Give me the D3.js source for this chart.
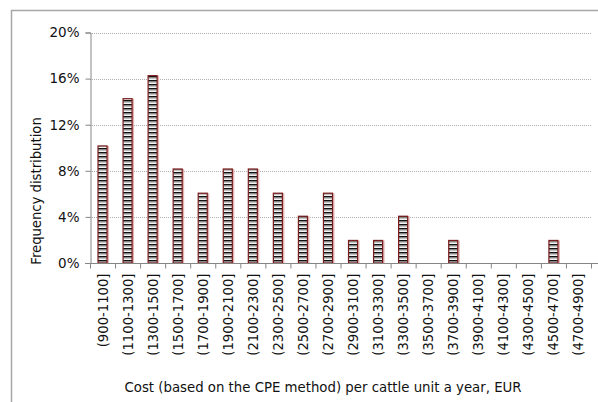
<!DOCTYPE html>
<html><head><meta charset="utf-8">
<script src="https://cdn.jsdelivr.net/npm/d3@7"></script>
<style>body{margin:0;background:#fff;}svg{display:block;font-family:"DejaVu Sans",Verdana,sans-serif;}</style>
</head><body>
<svg id="c" width="598" height="402"></svg>
<script>
const categories = ["(900-1100]","(1100-1300]","(1300-1500]","(1500-1700]","(1700-1900]","(1900-2100]","(2100-2300]","(2300-2500]","(2500-2700]","(2700-2900]","(2900-3100]","(3100-3300]","(3300-3500]","(3500-3700]","(3700-3900]","(3900-4100]","(4100-4300]","(4300-4500]","(4500-4700]","(4700-4900]"];
const values = [10.2,14.3,16.3,8.2,6.1,8.2,8.2,6.1,4.1,6.1,2.0,2.0,4.1,0,2.0,0,0,0,2.0,0];
const yTicks = [0,4,8,12,16,20];
const yTitle = "Frequency distribution";
const xTitle = "Cost (based on the CPE method) per cattle unit a year, EUR";

const svg = d3.select("#c");
const m = {left:90, right:591, top:32.5, bottom:263};

// outer border
svg.append("rect").attr("x",11.5).attr("y",10.5).attr("width",600).attr("height",400)
  .attr("fill","none").attr("stroke","#a6a6a6").attr("stroke-width",1.5);

const defs = svg.append("defs");
const pat = defs.append("pattern").attr("id","stripes").attr("patternUnits","userSpaceOnUse")
  .attr("width",10).attr("height",4);
pat.append("rect").attr("width",10).attr("height",4).attr("fill","#fff");
pat.append("rect").attr("y",0).attr("width",10).attr("height",1.4).attr("fill","#111");
pat.append("rect").attr("y",1.4).attr("width",10).attr("height",1.1).attr("fill","#777");
pat.append("rect").attr("y",2.5).attr("width",10).attr("height",0.7).attr("fill","#c8c8c8");

const x = d3.scaleBand().domain(categories).range([m.left,m.right]).paddingInner(0.6).paddingOuter(0.3);
const y = d3.scaleLinear().domain([0,20]).range([m.bottom,m.top]);

// gridlines
svg.append("g").selectAll("line").data(yTicks.filter(d=>d>0)).join("line")
  .attr("x1",m.left).attr("x2",m.right).attr("y1",d=>Math.round(y(d))+0.5).attr("y2",d=>Math.round(y(d))+0.5)
  .attr("stroke","#b0b0b0").attr("stroke-dasharray","1,1");

// y axis
const ya = svg.append("g").attr("transform",`translate(${m.left+0.5},0)`)
  .call(d3.axisLeft(y).tickValues(yTicks).tickFormat(d=>d+"%").tickSizeOuter(0).tickSize(5).tickPadding(6));
ya.select(".domain").attr("stroke","#868686");
ya.selectAll(".tick line").attr("stroke","#868686");
ya.selectAll("text").attr("font-size",13.5).attr("fill","#111").attr("font-family","DejaVu Sans, Verdana, sans-serif");

// bars
const data = values.map((v,i)=>({v,c:categories[i]})).filter(d=>d.v>0);
const bars = svg.append("g");
bars.selectAll("rect.sh").data(data).join("rect")
  .attr("x",d=>x(d.c)+1.5).attr("y",d=>y(d.v)+0.5).attr("width",x.bandwidth()).attr("height",d=>y(0)-y(d.v))
  .attr("fill","#e2b4b4");
bars.selectAll("rect.b").data(data).join("rect")
  .attr("x",d=>x(d.c)+0.5).attr("y",d=>y(d.v)+0.5).attr("width",x.bandwidth()-1).attr("height",d=>y(0)-y(d.v)-0.5)
  .attr("fill","url(#stripes)").attr("stroke","#7a1c1c").attr("stroke-width",1.2);

// x axis
const xa = svg.append("g").attr("transform",`translate(0,${Math.round(y(0))+0.5})`);
xa.append("line").attr("x1",m.left-5).attr("x2",m.right+8).attr("stroke","#868686");
xa.selectAll("line.t").data(d3.range(categories.length+1)).join("line")
  .attr("x1",i=>m.left+0.5+i*(m.right-m.left)/categories.length).attr("x2",i=>m.left+0.5+i*(m.right-m.left)/categories.length)
  .attr("y1",0).attr("y2",5).attr("stroke","#868686");
xa.selectAll("text").data(categories).join("text")
  .attr("transform",d=>`translate(${x(d)+x.bandwidth()/2+5},10) rotate(-90)`)
  .attr("text-anchor","end").attr("font-size",13.2).attr("fill","#111").text(d=>d);

// titles
svg.append("text").attr("transform","translate(41,191) rotate(-90)").attr("text-anchor","middle")
  .attr("font-size",13.2).attr("fill","#111").text(yTitle);
svg.append("text").attr("x",323).attr("y",392).attr("text-anchor","middle")
  .attr("font-size",13.3).attr("fill","#111").text(xTitle);
</script>
</body></html>
